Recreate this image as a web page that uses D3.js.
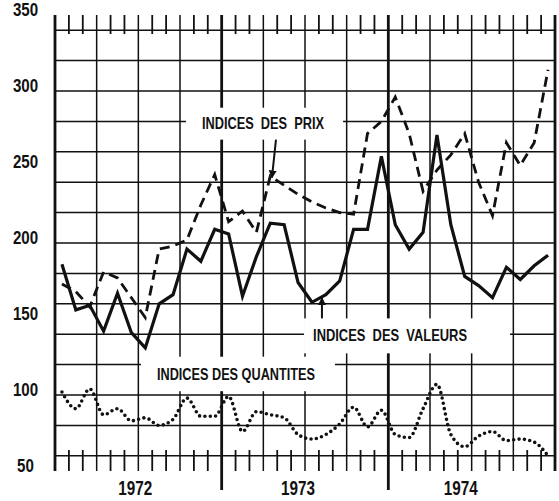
<!DOCTYPE html>
<html>
<head>
<meta charset="utf-8">
<script src="https://cdn.jsdelivr.net/npm/d3@7"></script>
<style>
  body { margin: 0; background: #fff; }
  text { font-family: "Liberation Sans", Arial, sans-serif; font-weight: bold; fill: #111; }
</style>
</head>
<body>
<div id="chart"></div>
<script>
// monthly indices, jan 1972 -> dec 1974
const years = ["1972", "1973", "1974"];
const yLabels = [350, 300, 250, 200, 150, 100, 50];

const valeurs = [186, 156, 159, 142, 167, 141, 131, 160, 166, 196, 188, 209,
                 206, 165, 191, 213, 212, 174, 161, 166, 175, 209, 209, 257,
                 212, 196, 207, 271, 212, 178, 172, 164, 184, 176, 185, 192];

const prix = [173, 168, 158, 181, 177, 164, 151, 196, 198, 202, 225, 245,
              214, 221, 207, 244, 238, 232, 227, 223, 220, 219, 272, 280,
              296, 272, 234, 248, 258, 272, 240, 218, 266, 251, 266, 314];

const quantites = [102, 91, 104, 87, 91, 83, 85, 80, 84, 98, 86, 86,
                   99, 76, 89, 87, 85, 74, 71, 74, 81, 92, 79, 90,
                   74, 72, 91, 107, 74, 66, 73, 76, 70, 71, 69, 60];

const width = 559, height = 501;

const x = d3.scaleLinear().domain([0, 36]).range([55, 555]);
const y = d3.scaleLinear().domain([50, 350]).range([471, 15]);

const svg = d3.select("#chart")
  .append("svg")
    .attr("width", width)
    .attr("height", height);

svg.append("defs").append("marker")
    .attr("id", "arrow")
    .attr("viewBox", "0 0 10 10")
    .attr("refX", 9).attr("refY", 5)
    .attr("markerWidth", 4).attr("markerHeight", 5)
    .attr("orient", "auto")
  .append("path")
    .attr("d", "M0,0L10,5L0,10Z")
    .attr("fill", "#111");

// grid
const grid = svg.append("g").attr("stroke", "#111");

grid.selectAll(".hline")
  .data(y.ticks(12))
  .join("line")
    .attr("x1", x(0)).attr("x2", x(36))
    .attr("y1", d => y(d)).attr("y2", d => y(d))
    .attr("stroke-width", d => (d === 50 || d === 350) ? 3 : 1.5);

grid.selectAll(".vline")
  .data(d3.range(0, 37, 3))
  .join("line")
    .attr("x1", d => x(d)).attr("x2", d => x(d))
    .attr("y1", y(350))
    .attr("y2", d => (d === 12 || d === 24) ? 490 : y(50))
    .attr("stroke-width", d => d % 12 === 0 ? 2.8 : 1.5);

// month ticks top and bottom
const months = d3.range(1, 36).filter(m => m % 3 !== 0);
grid.selectAll(".ttop")
  .data(months)
  .join("line")
    .attr("x1", d => x(d)).attr("x2", d => x(d))
    .attr("y1", y(350)).attr("y2", y(350) + 19)
    .attr("stroke-width", 1.8);
grid.selectAll(".tbot")
  .data(months)
  .join("line")
    .attr("x1", d => x(d)).attr("x2", d => x(d))
    .attr("y1", y(50)).attr("y2", y(50) - 21)
    .attr("stroke-width", 1.8);

// y labels (narrowed to match the condensed face)
svg.selectAll(".ylab")
  .data(yLabels)
  .join("text")
    .attr("x", 25.5)
    .attr("y", d => y(d) + 0.5)
    .attr("text-anchor", "middle")
    .attr("textLength", d => String(d).length * 8.4)
    .attr("lengthAdjust", "spacingAndGlyphs")
    .style("font-size", "18px")
    .text(d => d);

// year labels
svg.selectAll(".year")
  .data(years)
  .join("text")
    .attr("x", (d, i) => x(12 * i + 6) - 3 - 4 * i)
    .attr("y", 495)
    .attr("text-anchor", "middle")
    .attr("textLength", 34)
    .attr("lengthAdjust", "spacingAndGlyphs")
    .style("font-size", "20px")
    .text(d => d);

// labels with white boxes (month / index coordinates)
const notes = [
  {text: "INDICES  DES  PRIX", x0: 9.43, x1: 20.74, y0: 289, y1: 268, tx: 10.58, ty: 275.2, w: 122,
   arrow: [[15.91, 268], [15.62, 243]]},
  {text: "INDICES  DES  VALEURS", x0: 17.93, x1: 32.76, y0: 150.4, y1: 127.4, tx: 18.58, ty: 135.3, w: 154,
   arrow: [[19.22, 150.4], [19.22, 164]]},
  {text: "INDICES DES QUANTITES", x0: 6.19, x1: 20.16, y0: 125.2, y1: 102.5, tx: 7.34, ty: 109.7, w: 158,
   arrow: null}
];

notes.forEach(n => {
  svg.append("rect")
    .attr("x", x(n.x0)).attr("y", y(n.y0))
    .attr("width", x(n.x1) - x(n.x0))
    .attr("height", y(n.y1) - y(n.y0))
    .attr("fill", "#fff");
  svg.append("text")
    .attr("x", x(n.tx)).attr("y", y(n.ty))
    .attr("textLength", n.w)
    .attr("lengthAdjust", "spacingAndGlyphs")
    .style("font-size", "16.5px")
    .style("white-space", "pre")
    .text(n.text);
  if (n.arrow) {
    svg.append("line")
      .attr("x1", x(n.arrow[0][0])).attr("y1", y(n.arrow[0][1]))
      .attr("x2", x(n.arrow[1][0])).attr("y2", y(n.arrow[1][1]))
      .attr("stroke", "#111")
      .attr("stroke-width", 2)
      .attr("marker-end", "url(#arrow)");
  }
});

// series
const line = d3.line()
  .x((d, i) => x(i + 0.5))
  .y(d => y(d));

svg.append("path")
  .datum(prix)
  .attr("fill", "none")
  .attr("stroke", "#111")
  .attr("stroke-width", 2.8)
  .attr("stroke-dasharray", "10 6")
  .attr("d", line);

svg.append("path")
  .datum(valeurs)
  .attr("fill", "none")
  .attr("stroke", "#111")
  .attr("stroke-width", 3.2)
  .attr("d", line);

svg.append("path")
  .datum(quantites)
  .attr("fill", "none")
  .attr("stroke", "#111")
  .attr("stroke-width", 3.6)
  .attr("stroke-linecap", "round")
  .attr("stroke-dasharray", "0 5.4")
  .attr("d", line.curve(d3.curveMonotoneX));
</script>
</body>
</html>
